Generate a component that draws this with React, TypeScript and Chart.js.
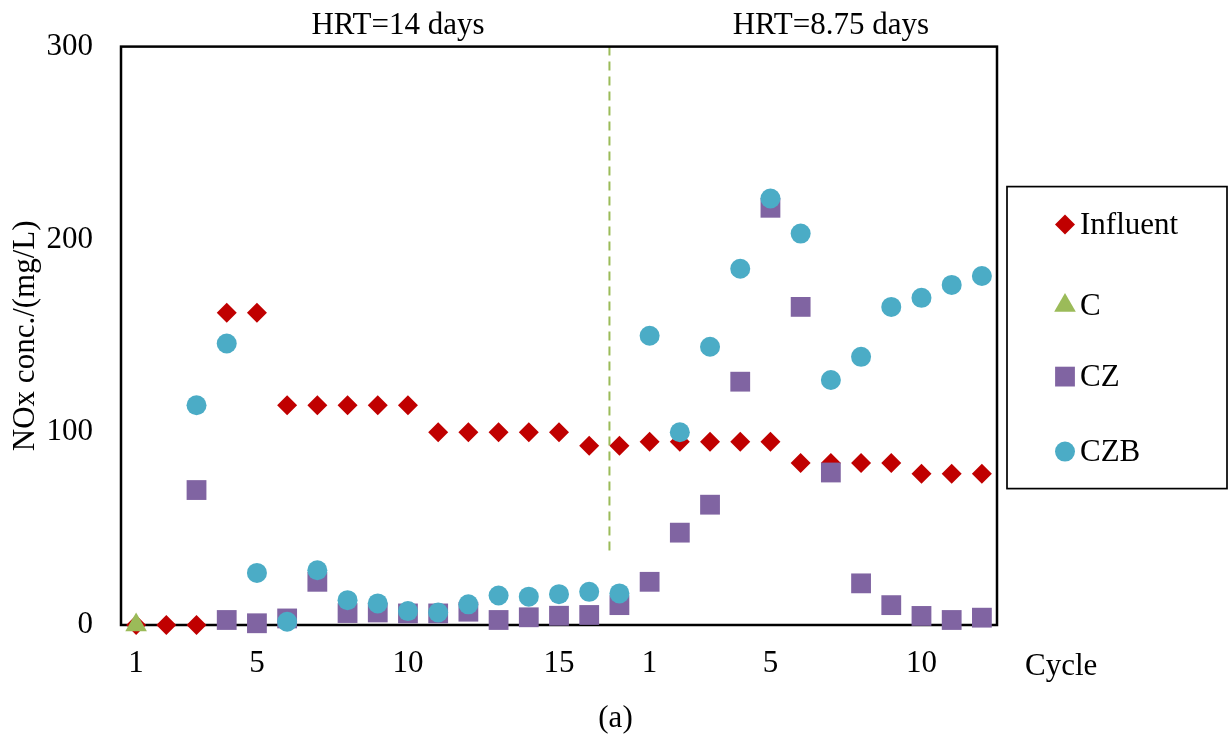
import React, { useEffect, useRef } from "react";
import { Chart, registerables } from "chart.js";
import { drawPoint } from "chart.js/helpers";

Chart.register(...registerables);

const FONT = '"Liberation Serif", "Times New Roman", serif';
const FS = 31;

// Cycles of the two HRT periods
const cyclesA = [1, 2, 3, 4, 5, 6, 7, 8, 9, 10, 11, 12, 13, 14, 15, 16, 17];
const cyclesB = [1, 2, 3, 4, 5, 6, 7, 8, 9, 10, 11, 12];
const cycleLabels = [...cyclesA, ...cyclesB].map(String);
const shownTicks = ["1", "5", "10", "15"];

// NOx concentrations (mg/L)
const influent = [0, 0, 0, 162, 162, 114, 114, 114, 114, 114, 100, 100, 100, 100, 100, 93, 93, 95, 95, 95, 95, 95, 84, 84, 84, 84, 78.5, 78.5, 78.5];
const cSeries = [0, null, null, null, null, null, null, null, null, null, null, null, null, null, null, null, null, null, null, null, null, null, null, null, null, null, null, null, null];
const cz = [null, null, 70, 2.6, 0.9, 3.4, 22.4, 6.2, 6.5, 6, 6, 6.9, 2.6, 4, 4.8, 5.2, 10.3, 22.4, 47.9, 62.4, 126.2, 216.4, 165, 79.1, 21.6, 10.3, 4.7, 2.6, 3.8];
const czb = [null, null, 114, 146, 27, 1.7, 28.4, 12.9, 11.2, 7.2, 6.5, 10.7, 15.3, 14.7, 16, 17.2, 16.4, 150, 100, 144.3, 184.8, 221.2, 203, 127.1, 139.1, 165, 169.7, 176.4, 181];

const yMin = 0;
const yMax = 300;
const yStep = 100;

const hrtLabels = ["HRT=14 days", "HRT=8.75 days"];
const hrtPositions = [8.67, 23];
const divider = { index: 15.67, from: 36, to: 300 };

const decor = {
  id: "decor",
  beforeDatasetsDraw(chart: any) {
    const { ctx, chartArea: a, scales } = chart;
    const x = scales.x;
    const y = scales.y;
    ctx.save();
    const dx = x.getPixelForValue(divider.index);
    ctx.strokeStyle = "#9BBB59";
    ctx.lineWidth = 2;
    ctx.setLineDash([9, 6]);
    ctx.beginPath();
    ctx.moveTo(dx, y.getPixelForValue(divider.to));
    ctx.lineTo(dx, y.getPixelForValue(divider.from));
    ctx.stroke();
    ctx.setLineDash([]);
    ctx.strokeStyle = "#000";
    ctx.lineWidth = 2.5;
    ctx.strokeRect(a.left, a.top, a.right - a.left, a.bottom - a.top);
    ctx.restore();
  },
  afterDraw(chart: any) {
    const { ctx, chartArea: a, scales } = chart;
    const x = scales.x;
    ctx.save();
    ctx.fillStyle = "#000";
    ctx.font = `${FS}px ${FONT}`;
    // period labels
    ctx.textAlign = "center";
    ctx.textBaseline = "alphabetic";
    hrtLabels.forEach((t, i) => {
      ctx.fillText(t, x.getPixelForValue(hrtPositions[i]), a.top - 13);
    });
    // axis name
    ctx.textAlign = "left";
    ctx.textBaseline = "middle";
    ctx.fillText("Cycle", a.right + 28, a.bottom + 42);
    // panel label
    ctx.textAlign = "center";
    ctx.fillText("(a)", chart.width / 2, a.bottom + 94);

    // legend
    const bx = a.right + 10;
    const by = a.top + 140;
    const bw = 220;
    const bh = 302;
    ctx.strokeStyle = "#000";
    ctx.lineWidth = 1.7;
    ctx.strokeRect(bx, by, bw, bh);
    const rows = [38, 119, 190, 265];
    chart.data.datasets.forEach((ds: any, i: number) => {
      const cy = by + rows[i];
      const mx = bx + 58;
      ctx.fillStyle = ds.pointBackgroundColor;
      drawPoint(
        ctx,
        { pointStyle: ds.pointStyle, radius: ds.pointRadius, rotation: 0, borderWidth: 0 } as any,
        mx,
        cy
      );
      ctx.fillStyle = "#000";
      ctx.textAlign = "left";
      ctx.textBaseline = "middle";
      ctx.fillText(ds.label, bx + 73, cy + 1);
    });
    ctx.restore();
  },
};

export default function App() {
  const ref = useRef<HTMLCanvasElement | null>(null);

  useEffect(() => {
    if (!ref.current) return;
    const mk = (label: string, data: any[], color: string, style: string, r: number, order: number) => ({
      label,
      data,
      showLine: false,
      clip: false,
      pointStyle: style,
      pointRadius: r,
      pointHoverRadius: r,
      pointBackgroundColor: color,
      pointBorderColor: color,
      pointBorderWidth: 0,
      borderColor: color,
      backgroundColor: color,
      order,
    });
    const chart = new Chart(ref.current, {
      type: "line",
      data: {
        labels: cycleLabels,
        datasets: [
          mk("Influent", influent, "#C00000", "rectRot", 10, 4),
          mk("C", cSeries, "#9BBB59", "triangle", 12.5, 3),
          mk("CZ", cz, "#8064A2", "rect", 14, 2),
          mk("CZB", czb, "#4BACC6", "circle", 10, 1),
        ] as any,
      },
      options: {
        responsive: false,
        animation: false,
        layout: { padding: { top: 45, right: 234, left: 0, bottom: 0 } },
        plugins: { legend: { display: false }, tooltip: { enabled: false } },
        scales: {
          x: {
            offset: true,
            grid: { display: false, drawTicks: false },
            border: { display: false },
            ticks: {
              autoSkip: false,
              maxRotation: 0,
              padding: 20,
              color: "#000",
              font: { family: FONT, size: FS },
              callback: (_v: any, i: number) => (shownTicks.includes(cycleLabels[i]) ? cycleLabels[i] : ""),
            },
            afterFit: (s: any) => {
              s.height = 111;
            },
          },
          y: {
            min: yMin,
            max: yMax,
            grid: { display: false, drawTicks: false },
            border: { display: false },
            ticks: { stepSize: yStep, padding: 28, color: "#000", font: { family: FONT, size: FS } },
            title: {
              display: true,
              text: "NOx conc./(mg/L)",
              color: "#000",
              font: { family: FONT, size: FS },
              padding: { top: 7, bottom: 0 },
            },
            afterFit: (s: any) => {
              s.width = 121;
            },
          },
        },
      } as any,
      plugins: [decor],
    });
    return () => chart.destroy();
  }, []);

  return (
    <div style={{ position: "absolute", left: 0, top: 0, width: 1231, height: 736, background: "#fff" }}>
      <canvas ref={ref} width={1231} height={736} style={{ display: "block" }} />
    </div>
  );
}
